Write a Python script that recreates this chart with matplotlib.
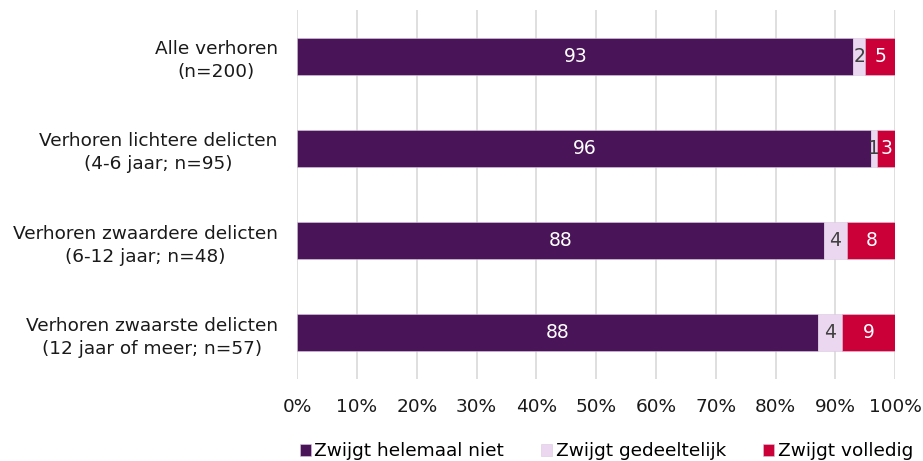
import matplotlib.pyplot as plt
import numpy as np

categories = ['Alle verhoren\n(n=200)',
              'Verhoren lichtere delicten\n(4-6 jaar; n=95)',
              'Verhoren zwaardere delicten\n(6-12 jaar; n=48)',
              'Verhoren zwaarste delicten\n(12 jaar of meer; n=57)']
series = ['Zwijgt helemaal niet', 'Zwijgt gedeeltelijk', 'Zwijgt volledig']
helemaal_niet = [93, 96, 88, 88]
gedeeltelijk = [2, 1, 4, 4]
volledig = [5, 3, 8, 9]

colors = ['#4a1558', '#ecd7f1', '#cc0039']
text_colors = ['white', '#404040', 'white']

plt.rcParams['font.family'] = 'DejaVu Sans'
plt.rcParams['font.size'] = 13.3

fig, ax = plt.subplots(figsize=(9.23, 4.61), dpi=100)
fig.subplots_adjust(left=0.322, right=0.970, top=0.978, bottom=0.178)

data = np.array([helemaal_niet, gedeeltelijk, volledig], dtype=float)
shares = data / data.sum(axis=0) * 100
y = np.arange(len(categories))
left = np.zeros(len(categories))
for k in range(3):
    bars = ax.barh(y, shares[k], left=left, height=0.4, color=colors[k],
                   edgecolor='#d9c8de', linewidth=0.4, label=series[k], zorder=3)
    for i, b in enumerate(bars):
        ax.text(left[i] + shares[k][i] / 2, y[i], f'{int(data[k][i])}',
                ha='center', va='center', color=text_colors[k], fontsize=13.5, zorder=4)
    left += shares[k]

ax.set_ylim(3.5, -0.5)
ax.set_xlim(0, 100)
ax.set_yticks(y)
ax.set_yticklabels(categories, color='#1a1a1a', multialignment='center', linespacing=1.35)
ax.set_xticks(np.arange(0, 101, 10))
ax.set_xticklabels([f'{t}%' for t in range(0, 101, 10)], color='#1a1a1a')
ax.tick_params(axis='y', length=0, pad=14)
ax.tick_params(axis='x', length=0, pad=14)
ax.grid(axis='x', color='#d9d9d9', linewidth=1.2, zorder=0)
for s in ax.spines.values():
    s.set_visible(False)

fig.legend(*ax.get_legend_handles_labels(), loc='center', bbox_to_anchor=(0.657, 0.021),
           ncol=3, frameon=False, handlelength=0.6, handleheight=0.6,
           handletextpad=0.2, columnspacing=2.0, fontsize=13.3, borderpad=0)

plt.savefig('out.png', dpi=100)
